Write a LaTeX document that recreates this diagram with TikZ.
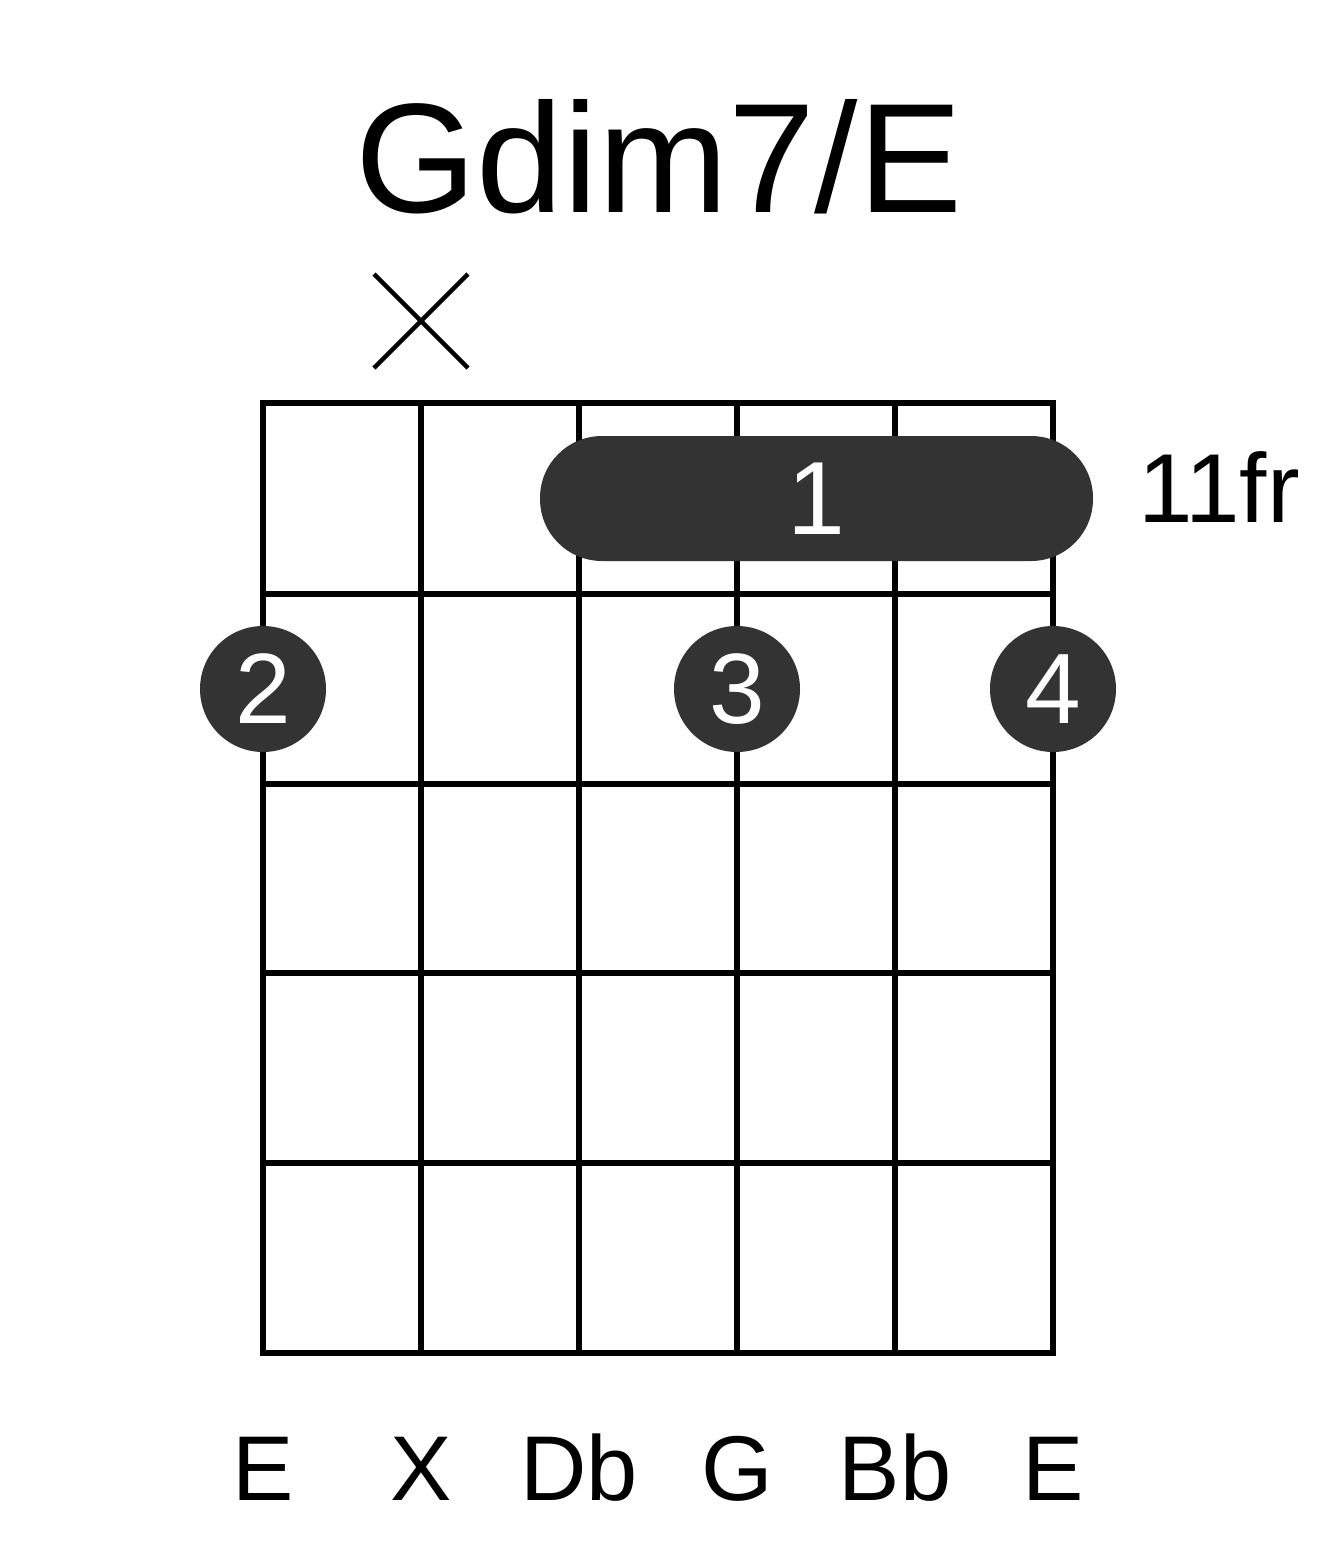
\documentclass[tikz,border=0pt]{standalone}
\usepackage{fontspec}
\setmainfont{Liberation Sans}
\definecolor{dotgray}{HTML}{333333}
\begin{document}
\begin{tikzpicture}[x=1pt,y=-1pt,
  gridline/.style={line width=5.5pt,black},
  fingerdot/.style={circle,fill=dotgray,minimum size=126pt,inner sep=0pt,text=white,font=\fontsize{100}{100}\selectfont},
  barre/.style={rounded corners=62pt,fill=dotgray},
  mutemark/.style={line width=4.5pt,black},
  lbl/.style={inner sep=0pt,anchor=base,font=\fontsize{92}{92}\selectfont}]
\useasboundingbox (0,0) rectangle (1317,1551);
\fill[white] (0,0) rectangle (1317,1551);
% title
\node[inner sep=0pt,anchor=base,font=\fontsize{156}{156}\selectfont] (title) at (659,212) {Gdim7/E};
% grid
\foreach \xx in {263,421,579,737,895,1053}
  \draw[gridline] (\xx,403) -- (\xx,1353);
\foreach \yy in {403,594,784,973,1163,1353}
  \draw[gridline,line cap=rect] (263,\yy) -- (1053,\yy);
% mute mark
\coordinate (m1) at (374,274);
\coordinate (m2) at (468,368);
\coordinate (m3) at (374,368);
\coordinate (m4) at (468,274);
\draw[mutemark] (m1) -- (m2);
\draw[mutemark] (m3) -- (m4);
% barre
\fill[barre] (540,436) rectangle (1093,561);
\node[inner sep=0pt,text=white,font=\fontsize{104}{104}\selectfont] (f1) at (816,498.5) {1};
% fret label
\node[inner sep=0pt,anchor=base west,font=\fontsize{98}{98}\selectfont] (fr) at (1138,522) {11fr};
% finger dots
\node[fingerdot] (f2) at (263,689) {2};
\node[fingerdot] (f3) at (737,689) {3};
\node[fingerdot] (f4) at (1053,689) {4};
% string labels
\node[lbl] (s1) at (263,1500) {E};
\node[lbl] (s2) at (421,1500) {X};
\node[lbl] (s3) at (579,1500) {Db};
\node[lbl] (s4) at (737,1500) {G};
\node[lbl] (s5) at (895,1500) {Bb};
\node[lbl] (s6) at (1053,1500) {E};
\end{tikzpicture}
\end{document}
